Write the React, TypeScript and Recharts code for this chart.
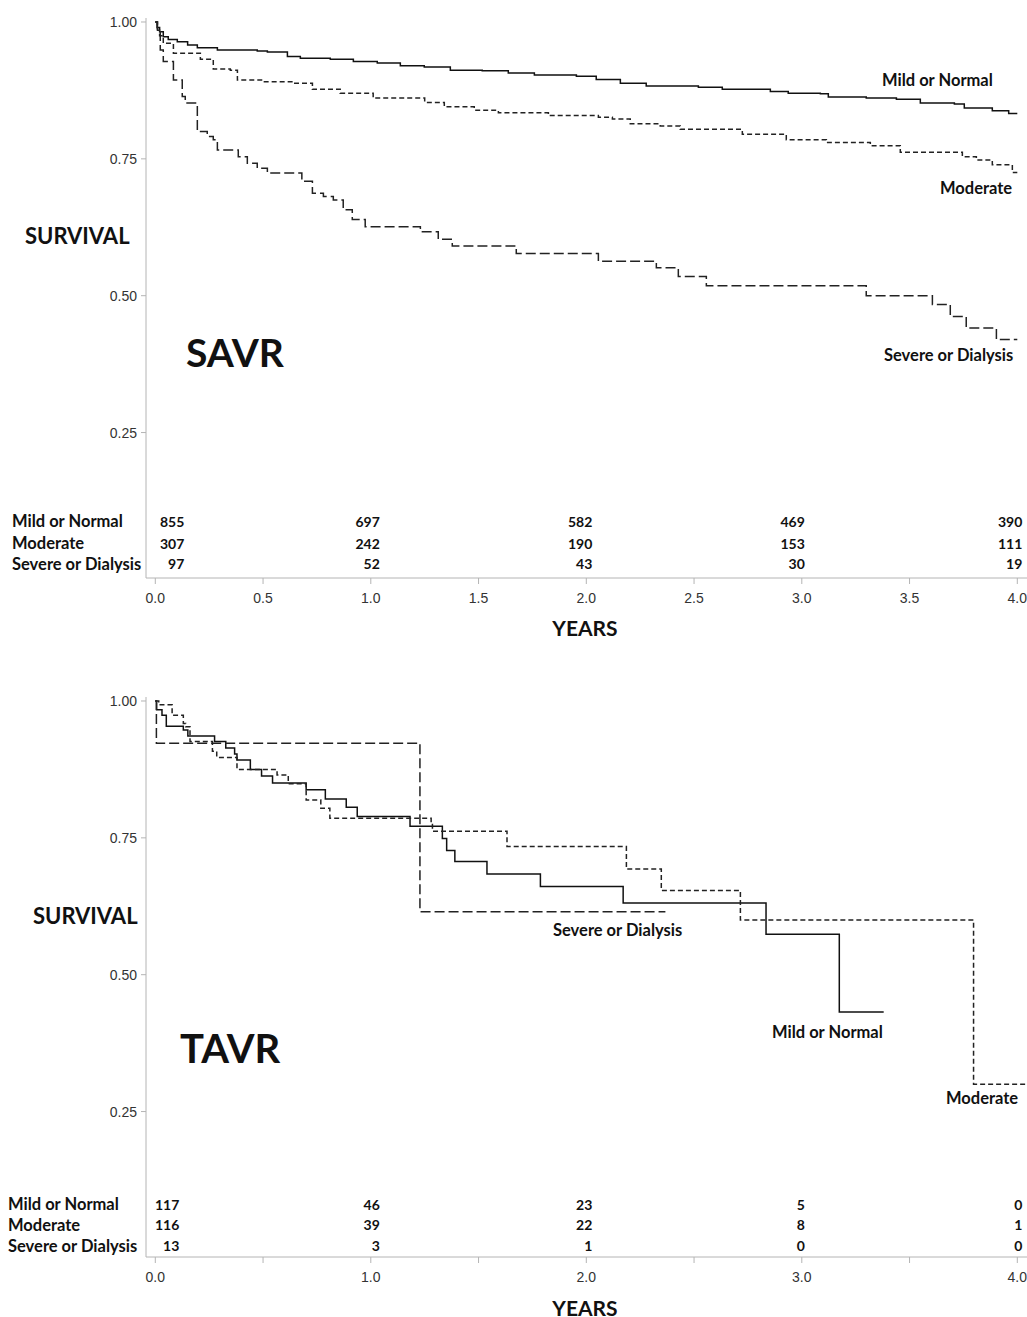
import React from 'react';
import { ComposedChart, Line, Scatter, XAxis, YAxis } from 'recharts';

// ---------- data ----------
const yearTicks = [0, 0.5, 1, 1.5, 2, 2.5, 3, 3.5, 4];
const survivalTicks = [0.25, 0.5, 0.75, 1.0];
const riskYears = [0, 1, 2, 3, 4];
const groupNames = ['Mild or Normal', 'Moderate', 'Severe or Dialysis'];

// SAVR Kaplan-Meier steps: [years, survival]
const savrMild: [number, number][] = [
  [0, 1], [0.008, 0.99], [0.02, 0.982], [0.037, 0.973], [0.06, 0.968], [0.102, 0.964], [0.15, 0.958],
  [0.195, 0.953], [0.288, 0.949], [0.473, 0.947], [0.52, 0.945], [0.613, 0.937], [0.673, 0.934],
  [0.812, 0.932], [0.919, 0.928], [1.03, 0.925], [1.137, 0.92], [1.248, 0.918], [1.369, 0.912],
  [1.517, 0.911], [1.638, 0.907], [1.759, 0.903], [1.954, 0.901], [2.046, 0.895], [2.158, 0.888],
  [2.278, 0.883], [2.52, 0.881], [2.631, 0.877], [2.854, 0.873], [2.937, 0.87], [3.086, 0.869],
  [3.123, 0.863], [3.299, 0.861], [3.439, 0.859], [3.55, 0.852], [3.708, 0.85], [3.754, 0.843],
  [3.884, 0.838], [3.96, 0.833], [4.0, 0.833],
];
const savrModerate: [number, number][] = [
  [0, 1], [0.01, 0.985], [0.02, 0.975], [0.037, 0.961], [0.084, 0.943], [0.209, 0.932], [0.269, 0.914],
  [0.348, 0.912], [0.381, 0.894], [0.501, 0.891], [0.64, 0.888], [0.729, 0.877], [0.858, 0.87],
  [1.011, 0.861], [1.25, 0.853], [1.341, 0.845], [1.48, 0.839], [1.592, 0.834], [1.824, 0.829],
  [2.056, 0.826], [2.121, 0.823], [2.204, 0.814], [2.343, 0.81], [2.436, 0.804], [2.724, 0.795],
  [2.928, 0.785], [3.114, 0.78], [3.318, 0.774], [3.457, 0.762], [3.745, 0.754], [3.81, 0.748],
  [3.884, 0.739], [3.977, 0.725], [4.0, 0.725],
];
const savrSevere: [number, number][] = [
  [0, 1], [0.01, 0.985], [0.023, 0.949], [0.037, 0.928], [0.084, 0.894], [0.125, 0.864], [0.139, 0.852],
  [0.195, 0.8], [0.241, 0.791], [0.269, 0.785], [0.288, 0.766], [0.385, 0.754], [0.427, 0.742],
  [0.473, 0.733], [0.52, 0.724], [0.68, 0.709], [0.729, 0.687], [0.78, 0.681], [0.826, 0.675],
  [0.872, 0.657], [0.914, 0.639], [0.974, 0.626], [1.23, 0.617], [1.313, 0.603], [1.378, 0.591],
  [1.675, 0.577], [2.056, 0.563], [2.325, 0.551], [2.427, 0.535], [2.557, 0.518], [3.299, 0.5],
  [3.606, 0.484], [3.689, 0.462], [3.763, 0.441], [3.903, 0.42], [4.0, 0.42],
];
const savrRiskMild = [855, 697, 582, 469, 390];
const savrRiskModerate = [307, 242, 190, 153, 111];
const savrRiskSevere = [97, 52, 43, 30, 19];

// TAVR Kaplan-Meier steps
const tavrMild: [number, number][] = [
  [0, 1], [0.006, 0.984], [0.031, 0.974], [0.051, 0.954], [0.13, 0.947], [0.151, 0.936], [0.275, 0.926],
  [0.327, 0.914], [0.368, 0.903], [0.379, 0.892], [0.441, 0.875], [0.493, 0.863], [0.544, 0.85],
  [0.7, 0.838], [0.789, 0.821], [0.886, 0.806], [0.937, 0.789], [1.182, 0.771], [1.332, 0.749],
  [1.352, 0.727], [1.39, 0.707], [1.539, 0.684], [1.787, 0.661], [2.171, 0.631], [2.834, 0.574],
  [3.174, 0.432], [3.38, 0.432],
];
const tavrModerate: [number, number][] = [
  [0, 1], [0.016, 0.993], [0.078, 0.974], [0.13, 0.959], [0.141, 0.953], [0.161, 0.926], [0.265, 0.908],
  [0.285, 0.897], [0.379, 0.875], [0.565, 0.865], [0.617, 0.849], [0.7, 0.819], [0.768, 0.804],
  [0.81, 0.786], [1.28, 0.778], [1.286, 0.762], [1.632, 0.734], [2.186, 0.693], [2.348, 0.654],
  [2.715, 0.6], [3.797, 0.3], [4.04, 0.3],
];
const tavrSevere: [number, number][] = [
  [0, 1], [0.005, 0.923], [1.228, 0.615], [2.367, 0.615],
];
const tavrRiskMild = [117, 46, 23, 5, 0];
const tavrRiskModerate = [116, 39, 22, 8, 1];
const tavrRiskSevere = [13, 3, 1, 0, 0];

// ---------- helpers ----------
const toPts = (arr: [number, number][]) => arr.map(([t, s]) => ({ t, s }));

const BOLD = 'Lato, "Open Sans", "DejaVu Sans", sans-serif';
const TICKF = '"Liberation Sans", Arial, sans-serif';
const W = 1027;
const H = 640;
const X_DOMAIN: [number, number] = [-0.0432, 4.045];
const Y_DOMAIN: [number, number] = [-0.0157, 1.0073];

type Label = { text: string; x: number; y: number; size: number; anchor?: 'start' | 'middle' | 'end' };

interface PanelProps {
  mild: [number, number][];
  moderate: [number, number][];
  severe: [number, number][];
  risk: number[][];
  riskLevels: number[];
  firstColDx: number;
  halfLabels: boolean;
  labels: Label[];
}

const RiskText = (props: any) => {
  const { cx, cy, payload } = props;
  if (cx == null || cy == null) return null;
  return (
    <text
      x={cx}
      y={cy}
      dx={payload.dx}
      textAnchor="end"
      dominantBaseline="central"
      fontFamily={BOLD}
      fontWeight={700}
      fontSize={14}
      fill="#111"
    >
      {payload.label}
    </text>
  );
};

function Panel({ mild, moderate, severe, risk, riskLevels, firstColDx, halfLabels, labels }: PanelProps) {
  const riskRows = risk.map((row, r) =>
    row.map((v, i) => ({ t: riskYears[i], s: riskLevels[r], label: String(v), dx: i === 0 ? firstColDx : [0, 9, 6, 3, 5][i] }))
  );
  return (
    <div style={{ position: 'relative', width: W, height: H }}>
      <ComposedChart width={W} height={H} margin={{ top: 18, right: 0, bottom: 0, left: 0 }}>
        <XAxis
          type="number"
          dataKey="t"
          domain={X_DOMAIN}
          ticks={yearTicks}
          allowDataOverflow
          height={62}
          stroke="#b4b4b4"
          tickSize={6}
          tickMargin={9}
          tick={{ fill: '#333', fontSize: 14, fontFamily: TICKF }}
          tickFormatter={(v: number) => (halfLabels || Number.isInteger(v) ? v.toFixed(1) : '')}
        />
        <YAxis
          type="number"
          domain={Y_DOMAIN}
          ticks={survivalTicks}
          allowDataOverflow
          width={146}
          stroke="#b4b4b4"
          tickSize={5}
          tickMargin={4}
          tick={{ fill: '#333', fontSize: 14, fontFamily: TICKF }}
          tickFormatter={(v: number) => v.toFixed(2)}
        />
        <Line data={toPts(mild)} dataKey="s" type="stepAfter" stroke="#111" strokeWidth={1.5} dot={false} activeDot={false} isAnimationActive={false} />
        <Line data={toPts(moderate)} dataKey="s" type="stepAfter" stroke="#222" strokeWidth={1.5} strokeDasharray="5 3" dot={false} activeDot={false} isAnimationActive={false} />
        <Line data={toPts(severe)} dataKey="s" type="stepAfter" stroke="#222" strokeWidth={1.5} strokeDasharray="10 4" dot={false} activeDot={false} isAnimationActive={false} />
        {riskRows.map((rows, r) => (
          <Scatter key={r} data={rows} dataKey="s" shape={RiskText} isAnimationActive={false} />
        ))}
      </ComposedChart>
      <svg width={W} height={H} style={{ position: 'absolute', left: 0, top: 0, pointerEvents: 'none' }}>
        {labels.map((l, i) => (
          <text
            key={i}
            x={l.x}
            y={l.y}
            textAnchor={l.anchor || 'start'}
            dominantBaseline="central"
            fontFamily={BOLD}
            fontWeight={700}
            fontSize={l.size}
            fill="#111"
          >
            {l.text}
          </text>
        ))}
      </svg>
    </div>
  );
}

const savrLabels: Label[] = [
  { text: 'SURVIVAL', x: 25, y: 235, size: 22 },
  { text: 'SAVR', x: 186, y: 352, size: 39 },
  { text: 'YEARS', x: 585, y: 627, size: 21, anchor: 'middle' },
  { text: 'Mild or Normal', x: 882, y: 80, size: 16.5 },
  { text: 'Moderate', x: 940, y: 188, size: 16.5 },
  { text: 'Severe or Dialysis', x: 884, y: 355, size: 16.5 },
  { text: groupNames[0], x: 12, y: 521, size: 16.5 },
  { text: groupNames[1], x: 12, y: 543, size: 16.5 },
  { text: groupNames[2], x: 12, y: 564, size: 16.5 },
];

const tavrLabels: Label[] = [
  { text: 'SURVIVAL', x: 33, y: 236, size: 22 },
  { text: 'TAVR', x: 180, y: 369, size: 40 },
  { text: 'YEARS', x: 585, y: 628, size: 21, anchor: 'middle' },
  { text: 'Severe or Dialysis', x: 553, y: 251, size: 16.5 },
  { text: 'Mild or Normal', x: 772, y: 353, size: 16.5 },
  { text: 'Moderate', x: 946, y: 419, size: 16.5 },
  { text: groupNames[0], x: 8, y: 525, size: 16.5 },
  { text: groupNames[1], x: 8, y: 546, size: 16.5 },
  { text: groupNames[2], x: 8, y: 567, size: 16.5 },
];

export default function App() {
  return (
    <div style={{ position: 'absolute', left: 0, top: 0, width: W, height: 1317, background: '#fff' }}>
      <div style={{ position: 'absolute', left: 0, top: 0 }}>
        <Panel
          mild={savrMild}
          moderate={savrModerate}
          severe={savrSevere}
          risk={[savrRiskMild, savrRiskModerate, savrRiskSevere]}
          riskLevels={[0.0884, 0.0482, 0.0099]}
          firstColDx={29}
          halfLabels={true}
          labels={savrLabels}
        />
      </div>
      <div style={{ position: 'absolute', left: 0, top: 679 }}>
        <Panel
          mild={tavrMild}
          moderate={tavrModerate}
          severe={tavrSevere}
          risk={[tavrRiskMild, tavrRiskModerate, tavrRiskSevere]}
          riskLevels={[0.081, 0.043, 0.0044]}
          firstColDx={24}
          halfLabels={false}
          labels={tavrLabels}
        />
      </div>
    </div>
  );
}
